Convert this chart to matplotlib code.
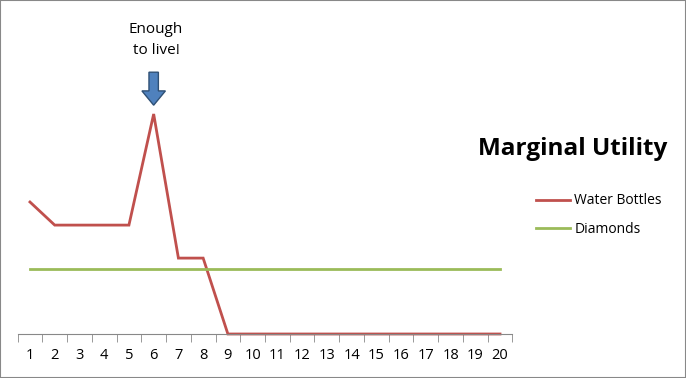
import matplotlib.pyplot as plt
import numpy as np
from matplotlib.patches import FancyArrow, Rectangle

plt.rcParams['font.family'] = ['Open Sans', 'DejaVu Sans']

quantity = list(range(1, 21))
water_bottles = [6, 4.95, 4.95, 4.95, 4.95, 10, 3.45, 3.45, 0, 0, 0, 0, 0, 0, 0, 0, 0, 0, 0, 0]
diamonds = [2.95] * 20

W, H = 686, 378
fig = plt.figure(figsize=(W / 100, H / 100), dpi=100)
ax = fig.add_axes([17.6 / W, 44 / H, (512.4 - 17.6) / W, 275 / H])

red = '#C0504D'
green = '#9BBB59'
ax.plot(quantity, water_bottles, color=red, lw=2.0, label='Water Bottles',
        solid_joinstyle='miter', clip_on=False)
ax.plot(quantity, diamonds, color=green, lw=2.0, label='Diamonds', clip_on=False)

ax.set_xlim(0.5, 20.5)
ax.set_ylim(0, 12.5)
for s in ['top', 'right', 'left']:
    ax.spines[s].set_visible(False)
ax.spines['bottom'].set_color('#888888')
ax.set_yticks([])
ax.set_xticks(quantity)
ax.set_xticklabels([str(q) for q in quantity], fontsize=10.5)
ax.set_xticks(np.arange(0.5, 21, 1), minor=True)
ax.tick_params(axis='x', which='major', length=0, pad=10)
ax.tick_params(axis='x', which='minor', length=6, color='#888888', direction='out')

# arrow pointing at the peak
arrow = FancyArrow(6, 11.9, 0, -1.5, width=0.38, head_width=0.95, head_length=0.65,
                   length_includes_head=True, facecolor='#4F81BD', edgecolor='#2F5075',
                   lw=1.0, clip_on=False)
ax.add_patch(arrow)
fig.text(156 / W, 1 - 40 / H, 'Enough\nto live!', ha='center', va='center',
         fontsize=11, linespacing=1.6)

fig.text(573 / W, 1 - 149 / H, 'Marginal Utility', ha='center', va='center',
         fontsize=17.5, fontweight='bold')

fig.legend(loc='upper left', bbox_to_anchor=(523 / W, 1 - 181 / H), frameon=False,
           fontsize=10, handlelength=2.5, handletextpad=0.3, labelspacing=0.95)

fig.add_artist(Rectangle((0, 0), 1, 1, transform=fig.transFigure, fill=False,
                         edgecolor='#888888', lw=1.5))

fig.savefig('out.png', dpi=100)
